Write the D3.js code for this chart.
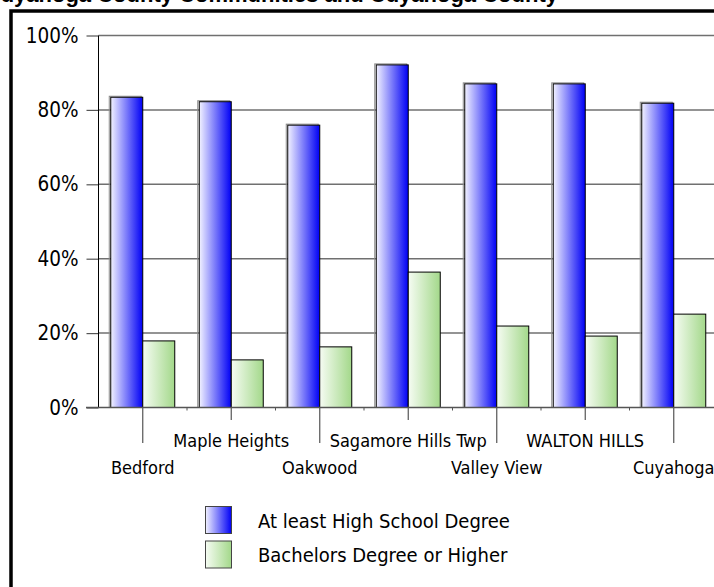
<!DOCTYPE html>
<html>
<head>
<meta charset="utf-8">
<script src="https://cdn.jsdelivr.net/npm/d3@7"></script>
<style>
  html, body { margin: 0; padding: 0; background: #fff; }
  svg { display: block; }
  text { font-family: "DejaVu Sans Condensed", "DejaVu Sans", sans-serif; font-stretch: condensed; fill: #000; }
</style>
</head>
<body>
<svg id="chart" width="714" height="587"></svg>
<script>
// Educational attainment by community
const categories = ["Bedford", "Maple Heights", "Oakwood", "Sagamore Hills Twp", "Valley View", "WALTON HILLS", "Cuyahoga"];
const seriesNames = ["At least High School Degree", "Bachelors Degree or Higher"];
const highSchool = [83.4, 82.2, 75.9, 92.1, 87.0, 87.0, 81.8];
const bachelors = [17.9, 12.8, 16.3, 36.4, 21.9, 19.2, 25.1];
const yTicks = [0, 20, 40, 60, 80, 100];
const titleText = "Educational Attainment: Selected Cuyahoga County Communities and Cuyahoga County";

const svg = d3.select("#chart");
const defs = svg.append("defs");

// Horizontal gradients for the two series
function gradient(id, from, to) {
  const g = defs.append("linearGradient").attr("id", id)
    .attr("x1", "0%").attr("x2", "100%").attr("y1", "0%").attr("y2", "0%");
  g.append("stop").attr("offset", "0%").attr("stop-color", from);
  g.append("stop").attr("offset", "100%").attr("stop-color", to);
}
gradient("gBlue", "#f2f2ff", "#0000f5");
gradient("gGreen", "#f6fcf3", "#a3d88a");
const fills = ["url(#gBlue)", "url(#gGreen)"];

// Title (runs off the top of the page)
svg.append("text")
  .attr("x", 558).attr("y", 1.5)
  .attr("text-anchor", "end")
  .style("font-family", "'Liberation Sans', Arial, sans-serif")
  .style("font-stretch", "normal")
  .style("font-weight", "bold")
  .style("font-size", "22px")
  .text(titleText);

// Outer frame
svg.append("rect")
  .attr("x", 11).attr("y", 11)
  .attr("width", 760).attr("height", 640)
  .attr("fill", "none").attr("stroke", "#000").attr("stroke-width", 3.5);

// Scales
const x = d3.scaleBand().domain(categories).range([98.5, 718]).paddingInner(0).paddingOuter(0);
const xs = d3.scaleBand().domain(seriesNames).range([12.25, x.bandwidth() - 12.25]);
const y = d3.scaleLinear().domain([0, 100]).range([407.5, 35.5]);

// Gridlines
svg.append("g").selectAll("line").data(yTicks.slice(1)).join("line")
  .attr("x1", 98.5).attr("x2", 714)
  .attr("y1", d => y(d)).attr("y2", d => y(d))
  .attr("stroke", "#707070").attr("stroke-width", 1.5);

// Y axis
const yAxis = svg.append("g")
  .attr("transform", "translate(98.5,0)")
  .call(d3.axisLeft(y).tickValues(yTicks).tickFormat(d => d + "%").tickSize(12).tickPadding(8));
yAxis.select(".domain").remove();
yAxis.selectAll(".tick line").attr("stroke", "#555").attr("stroke-width", 1.2);
yAxis.selectAll(".tick text")
  .style("font-size", "20.5px")
  .style("font-family", "\"DejaVu Sans Condensed\", \"DejaVu Sans\", sans-serif")
  .attr("fill", "#000");

// Vertical axis line
svg.append("line")
  .attr("x1", 98.5).attr("x2", 98.5)
  .attr("y1", y(100)).attr("y2", y(0))
  .attr("stroke", "#000").attr("stroke-width", 1);

// Bars
const rows = categories.map((c, i) => ({ cat: c, values: [highSchool[i], bachelors[i]] }));
const groups = svg.append("g").selectAll("g").data(rows).join("g")
  .attr("transform", d => `translate(${x(d.cat)},0)`);

groups.selectAll("rect.shadow").data(d => d.values.map((v, k) => ({ v, k })).filter(e => e.k === 0)).join("rect")
  .attr("class", "shadow")
  .attr("x", e => xs(seriesNames[e.k]) - 1.5)
  .attr("y", e => y(e.v) - 1)
  .attr("width", xs.bandwidth())
  .attr("height", e => y(0) - y(e.v) + 1)
  .attr("fill", "none").attr("stroke", "#8a8a8a").attr("stroke-width", 1);

groups.selectAll("rect.bar").data(d => d.values.map((v, k) => ({ v, k }))).join("rect")
  .attr("class", "bar")
  .attr("x", e => xs(seriesNames[e.k]))
  .attr("y", e => y(e.v))
  .attr("width", xs.bandwidth())
  .attr("height", e => y(0) - y(e.v))
  .attr("fill", e => fills[e.k])
  .attr("stroke", "#000").attr("stroke-width", 1);

// Baseline
svg.append("line")
  .attr("x1", 86).attr("x2", 714)
  .attr("y1", y(0)).attr("y2", y(0))
  .attr("stroke", "#555").attr("stroke-width", 1.5);

// Category ticks and staggered labels
const xg = svg.append("g");
xg.selectAll("line.minor").data(categories.slice(1)).join("line")
  .attr("class", "minor")
  .attr("x1", d => x(d)).attr("x2", d => x(d))
  .attr("y1", y(0)).attr("y2", y(0) + 3)
  .attr("stroke", "#555");
xg.selectAll("line.major").data(categories).join("line")
  .attr("class", "major")
  .attr("x1", d => x(d) + x.bandwidth() / 2).attr("x2", d => x(d) + x.bandwidth() / 2)
  .attr("y1", y(0))
  .attr("y2", (d, i) => i % 2 === 0 ? 443 : 420)
  .attr("stroke", "#555").attr("stroke-width", 1.2);
xg.selectAll("text").data(categories).join("text")
  .attr("x", d => x(d) + x.bandwidth() / 2)
  .attr("y", (d, i) => i % 2 === 0 ? 474 : 447)
  .attr("text-anchor", "middle")
  .style("font-size", "18px")
  .text(d => d);

// Legend
const legend = svg.append("g").selectAll("g").data(seriesNames).join("g")
  .attr("transform", (d, i) => `translate(205.5,${506.5 + i * 34.5})`);
legend.append("rect")
  .attr("width", 26).attr("height", 27)
  .attr("fill", (d, i) => fills[i])
  .attr("stroke", "#444").attr("stroke-width", 1);
legend.append("text")
  .attr("x", 52.5).attr("y", 21)
  .style("font-size", "20px")
  .text(d => d);
</script>
</body>
</html>
